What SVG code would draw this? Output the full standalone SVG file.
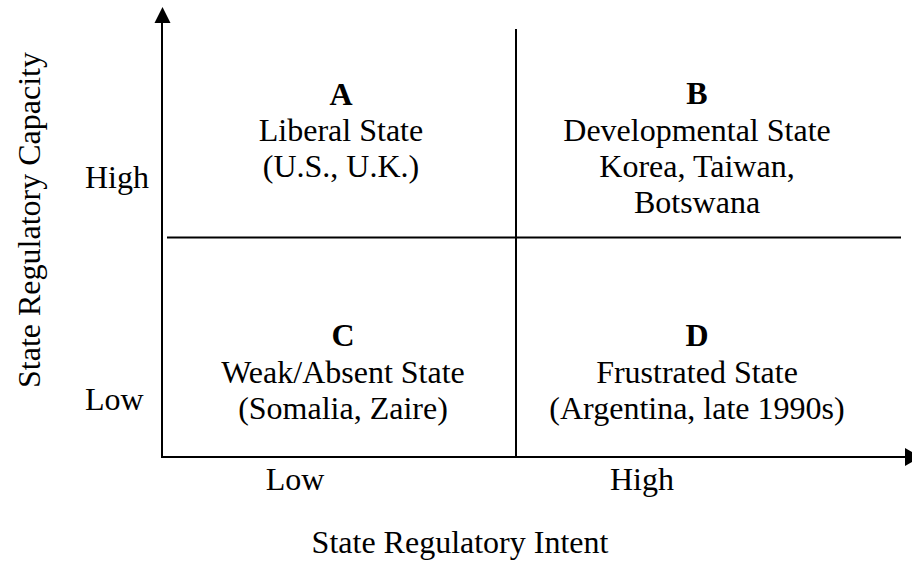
<svg xmlns="http://www.w3.org/2000/svg" width="912" height="562" viewBox="0 0 912 562">
  <style>
    text { font-family: "Liberation Serif", "Times New Roman", serif; font-size: 32px; fill: #000; }
    .c { text-anchor: middle; }
    .b { font-weight: bold; }
    .ln { stroke: #000; stroke-width: 2; fill: none; }
  </style>
  <rect width="912" height="562" fill="#fff"/>

  <!-- axes and quadrant dividers -->
  <g id="connectors">
    <line class="ln" x1="162" y1="20" x2="162" y2="458"/>
    <polygon points="162.5,7 154.5,23 170.5,23" fill="#000"/>
    <line class="ln" x1="161" y1="457" x2="906" y2="457"/>
    <polygon points="921,457 905,448 905,466" fill="#000"/>
    <line class="ln" x1="516" y1="29" x2="516" y2="457"/>
    <line class="ln" x1="167" y1="237.5" x2="901" y2="237.5"/>
  </g>

  <!-- axis labels -->
  <g id="y-axis-label">
    <text class="c" transform="translate(40,220) rotate(-90)">State Regulatory Capacity</text>
    <text x="85" y="188">High</text>
    <text x="85" y="410">Low</text>
  </g>
  <g id="x-axis-label">
    <text class="c" x="295" y="490">Low</text>
    <text class="c" x="642" y="490">High</text>
    <text class="c" x="460" y="553">State Regulatory Intent</text>
  </g>

  <!-- quadrants -->
  <g id="quadrant-a">
    <text class="c b" x="341" y="105">A</text>
    <text class="c" x="341" y="141">Liberal State</text>
    <text class="c" x="341" y="177">(U.S., U.K.)</text>
  </g>
  <g id="quadrant-b">
    <text class="c b" x="697" y="104">B</text>
    <text class="c" x="697" y="141">Developmental State</text>
    <text class="c" x="697" y="177">Korea, Taiwan,</text>
    <text class="c" x="697" y="213">Botswana</text>
  </g>
  <g id="quadrant-c">
    <text class="c b" x="343" y="346">C</text>
    <text class="c" x="343" y="383">Weak/Absent State</text>
    <text class="c" x="343" y="419">(Somalia, Zaire)</text>
  </g>
  <g id="quadrant-d">
    <text class="c b" x="697" y="346">D</text>
    <text class="c" x="697" y="383">Frustrated State</text>
    <text class="c" x="697" y="419">(Argentina, late 1990s)</text>
  </g>
</svg>
